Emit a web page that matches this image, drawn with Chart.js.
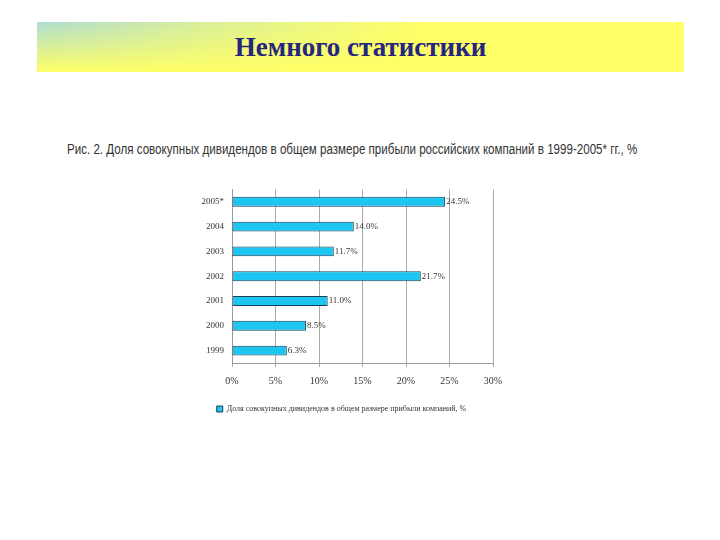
<!DOCTYPE html>
<html>
<head>
<meta charset="utf-8">
<script src="https://cdn.jsdelivr.net/npm/chart.js@4.4.1/dist/chart.umd.min.js"></script>
<style>
  body { margin: 0; background: #fff; width: 720px; height: 540px; overflow: hidden; }
  #banner {
    position: absolute; left: 37px; top: 22px; width: 647px; height: 50px;
    background: linear-gradient(to bottom, rgba(160,215,230,0.85) 0%, rgba(255,255,255,0) 100%),
                #ffff66;
  }
  #banner .fade {
    position: absolute; left: 0; top: 0; width: 100%; height: 100%;
    background: linear-gradient(to right, rgba(255,255,102,0) 0%, rgba(255,255,102,0.6) 30%, #ffff66 60%);
  }
  #banner .txt {
    position: absolute; left: 0; top: 0; width: 100%; line-height: 50px; text-align: center;
    font-family: "Liberation Serif", serif; font-weight: bold; font-size: 27px; color: #26267f;
  }
  #chartTitle {
    position: absolute; left: 67px; top: 141px; white-space: nowrap;
    font-family: "Liberation Sans", sans-serif; font-size: 14px; color: #333;
    transform-origin: 0 0;
  }
  #wrap { position: absolute; left: 0; top: 180px; width: 720px; height: 243px; }
</style>
</head>
<body>
<div id="banner"><div class="fade"></div><div class="txt">Немного статистики</div></div>
<div id="chartTitle">Рис. 2. Доля совокупных дивидендов в общем размере прибыли российских компаний в 1999-2005* гг., %</div>
<div id="wrap"><canvas id="barChart"></canvas></div>
<script>
var years = ["2005*", "2004", "2003", "2002", "2001", "2000", "1999"];
var shares = [24.5, 14.0, 11.7, 21.7, 11.0, 8.5, 6.3];
var xTicks = [0, 5, 10, 15, 20, 25, 30];

// squeeze the caption to the width it has on the slide
var cap = document.getElementById('chartTitle');
cap.style.transform = 'scaleX(' + (570 / cap.offsetWidth) + ')';

var barLabels = {
    id: 'barLabels',
    afterDatasetsDraw: function(chart) {
        var ctx = chart.ctx;
        var meta = chart.getDatasetMeta(0);
        ctx.save();
        ctx.font = '9px "Liberation Serif"';
        ctx.fillStyle = '#333';
        ctx.textBaseline = 'middle';
        meta.data.forEach(function(bar, i) {
            ctx.fillText(shares[i].toFixed(1) + '%', bar.x + 1, bar.y);
        });
        ctx.restore();
    }
};

new Chart(document.getElementById('barChart'), {
    type: 'bar',
    data: {
        labels: years,
        datasets: [{
            label: 'Доля совокупных дивидендов в общем размере прибыли компаний, %',
            data: shares,
            backgroundColor: '#1cc6f0',
            borderColor: '#1d3c55',
            borderWidth: 1,
            borderSkipped: false,
            barPercentage: 0.4,
            categoryPercentage: 1
        }]
    },
    options: {
        indexAxis: 'y',
        responsive: true,
        maintainAspectRatio: false,
        animation: false,
        layout: { padding: { left: 190, right: 227, top: 8, bottom: 0 } },
        scales: {
            x: {
                min: 0, max: 30,
                afterBuildTicks: function(s) { s.ticks = xTicks.map(function(v) { return { value: v }; }); },
                ticks: {
                    callback: function(v) { return v + '%'; },
                    font: { family: 'Liberation Serif', size: 10 },
                    color: '#333',
                    padding: 8
                },
                grid: { color: '#aaa', tickLength: 4, drawTicks: true },
                border: { color: '#999' }
            },
            y: {
                afterFit: function(s) { s.width = 42; },
                ticks: { font: { family: 'Liberation Serif', size: 9 }, color: '#333', padding: 4 },
                grid: { display: false, drawTicks: true, tickLength: 4 },
                border: { color: '#999' }
            }
        },
        plugins: {
            title: { display: false },
            legend: {
                position: 'bottom',
                labels: {
                    font: { family: 'Liberation Serif', size: 8 },
                    color: '#333',
                    boxWidth: 6, boxHeight: 6
                }
            },
            tooltip: { enabled: false }
        }
    },
    plugins: [barLabels]
});
</script>
</body>
</html>
